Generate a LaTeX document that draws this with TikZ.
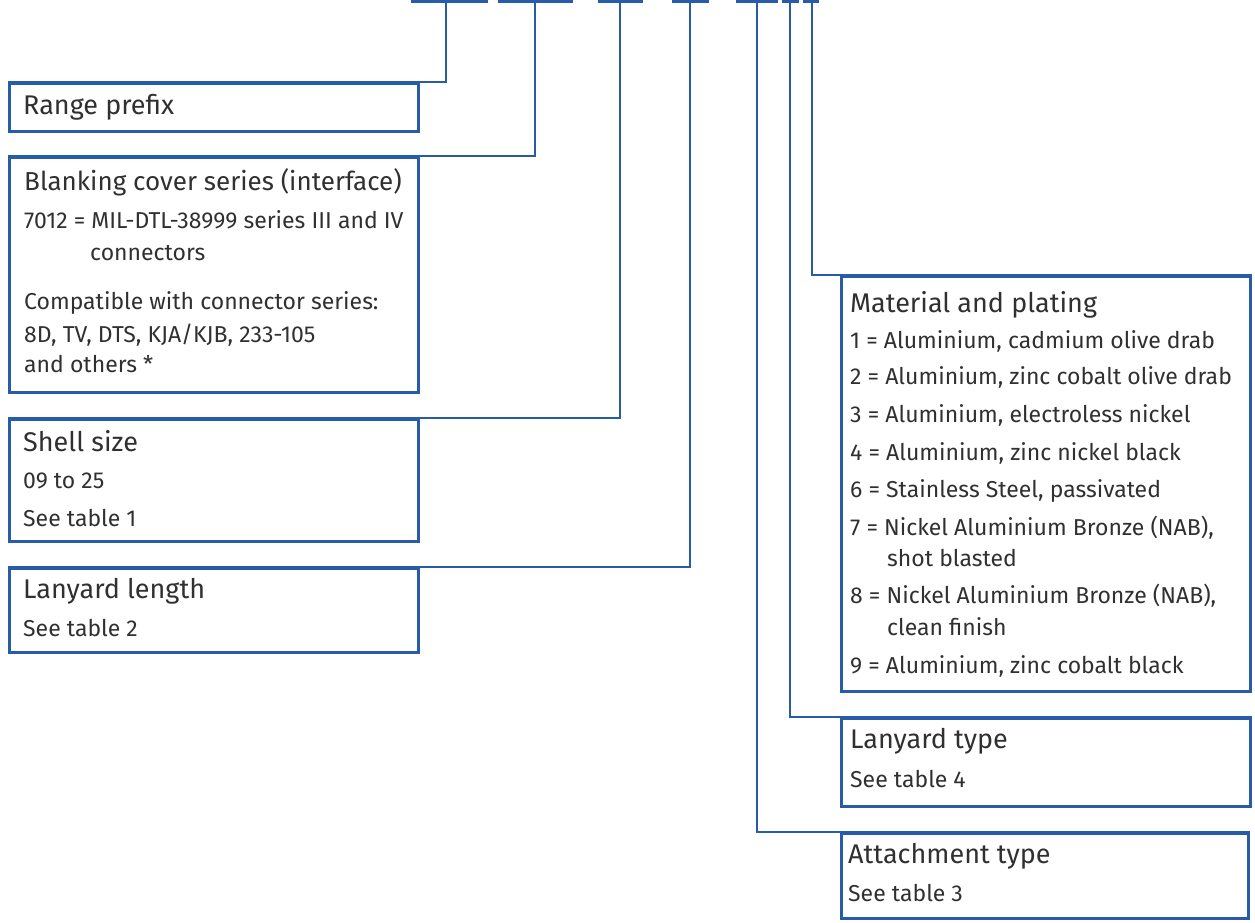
\documentclass[tikz,border=0pt]{standalone}
\usepackage{fontspec}
\setmainfont{Fira Sans}
\usepackage{tikz}
\usetikzlibrary{calc}
\usetikzlibrary{positioning}
\definecolor{linkblue}{RGB}{40,92,168}
\definecolor{txtgrey}{RGB}{48,48,48}
\tikzset{infobox/.style={draw=linkblue,line width=2.6pt,rectangle,inner sep=0pt,anchor=north west}}
\tikzset{link/.style={draw=linkblue,line width=2.6pt}}
\tikzset{boxtitle/.style={anchor=base west,inner sep=0pt,text=txtgrey,font=\fontsize{27}{27}\selectfont}}
\tikzset{boxline/.style={anchor=base west,inner sep=0pt,text=txtgrey,font=\fontsize{23}{23}\selectfont}}

\begin{document}
\begin{tikzpicture}[x=1pt,y=-1pt]
\useasboundingbox (0,0) rectangle (1255,923);

% code bars along the top
\foreach \i/\xa/\xb/\xs in {1/411/488/446, 2/498/573/535, 3/598/643/620, 4/672/709/690, 5/736/778/757, 6/782/799/790, 7/803/819/812}
 {
 \draw[link] (\xa,1.3) -- (\xb,1.3);
 \coordinate (t\i) at (\xs,1.3);
 }

% boxes
\foreach \name/\xa/\ya/\xb/\yb in {range/8/82/417/130, blank/8/156/417/391, shell/8/418/417/540, lenl/8/567/417/651, mat/840/275/1249/690, ltype/840/717/1249/805, attach/840/832/1247/917}
 {
 \node[infobox,minimum width={(\xb-\xa)*1pt},minimum height={(\yb-\ya)*1pt}] (\name) at (\xa,\ya) {};
 }

% connectors
\draw[link] (t1) |- (range.north west);
\draw[link] (t2) |- (blank.north west);
\draw[link] (t3) |- (shell.north west);
\draw[link] (t4) |- (lenl.north west);
\draw[link] (t7) |- (mat.north east);
\draw[link] (t6) |- (ltype.north east);
\draw[link] (t5) |- (attach.north east);

% left column texts
\node[boxtitle] (rangeT) at (23,115) {Range prefix};

\node[boxtitle,font=\fontsize{26}{26}\selectfont] (blankT) at (24,190) {Blanking cover series (interface)};
\node[boxline] (blank1) at (24,228) {7012 = MIL-DTL-38999 series III and IV};
\node[boxline] (blank2) at (90,260) {connectors};
\node[boxline] (blank3) at (24,309) {Compatible with connector series:};
\node[boxline] (blank4) at (24,342) {8D, TV, DTS, KJA/KJB, 233-105};
\node[boxline] (blank5) at (24,372) {and others *};

\node[boxtitle] (shellT) at (23,451) {Shell size};
\node[boxline] (shell1) at (23,488) {09 to 25};
\node[boxline] (shell2) at (23,526) {See table 1};

\node[boxtitle] (lenlT) at (23,598) {Lanyard length};
\node[boxline] (lenl1) at (23,636) {See table 2};

% right column texts
\node[boxtitle] (matT) at (850,312) {Material and plating};
\foreach \n/\y/\t in {1/348/{1 = Aluminium, cadmium olive drab}, 2/384/{2 = Aluminium, zinc cobalt olive drab}, 3/422/{3 = Aluminium, electroless nickel}, 4/460/{4 = Aluminium, zinc nickel black}, 6/497/{6 = Stainless Steel, passivated}, 7/535/{7 = Nickel Aluminium Bronze (NAB),}, 8/603/{8 = Nickel Aluminium Bronze (NAB),}, 9/673/{9 = Aluminium, zinc cobalt black}}
 {
 \node[boxline] (m\n) at (850,\y) {\t};
 }
\node[boxline] (m7b) at (887,566) {shot blasted};
\node[boxline] (m8b) at (887,635) {clean finish};

\node[boxtitle] (ltypeT) at (850,748) {Lanyard type};
\node[boxline] (ltype1) at (850,787) {See table 4};

\node[boxtitle] (attachT) at (848,863) {Attachment type};
\node[boxline] (attach1) at (848,901) {See table 3};

\end{tikzpicture}
\end{document}
